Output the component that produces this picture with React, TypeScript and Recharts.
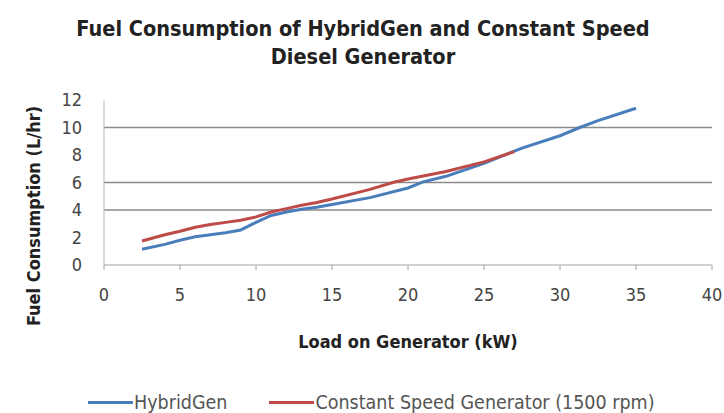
import { LineChart, Line, XAxis, YAxis, CartesianGrid } from "recharts"

// load (kW) vs fuel use (L/hr)
const HYBRID_LOAD = [2.5, 4, 5, 6, 7, 8, 9, 10, 11, 12, 13, 14, 15, 17.5, 20, 21, 22.5, 25, 27.5, 30, 31.3, 32.5, 35]
const HYBRID_FUEL = [1.15, 1.5, 1.8, 2.05, 2.2, 2.35, 2.55, 3.1, 3.6, 3.85, 4.05, 4.2, 4.4, 4.9, 5.6, 6.05, 6.45, 7.4, 8.5, 9.4, 10, 10.5, 11.4]
const CONST_LOAD = [2.5, 4, 5, 6, 7, 8, 9, 10, 11, 12, 13, 14, 15, 17.5, 19, 20, 22.5, 25, 27]
const CONST_FUEL = [1.75, 2.2, 2.45, 2.75, 2.95, 3.1, 3.25, 3.5, 3.85, 4.1, 4.35, 4.55, 4.8, 5.5, 6.0, 6.25, 6.8, 7.5, 8.25]
const X_TICKS = [0, 5, 10, 15, 20, 25, 30, 35, 40]
const Y_TICKS = [0, 2, 4, 6, 8, 10, 12]
const GRID_Y = [4, 6, 10]

const BLUE = "#4a7ebb"
const RED = "#be4b48"
const FONT = "'Liberation Sans Narrow', 'DejaVu Sans Condensed', 'Open Sans', sans-serif"

const hybrid = HYBRID_LOAD.map((x, i) => ({ x, y: HYBRID_FUEL[i] }))
const constant = CONST_LOAD.map((x, i) => ({ x, y: CONST_FUEL[i] }))

export default function App() {
  return (
    <div
      style={{
        position: "absolute",
        left: 0,
        top: 0,
        width: 724,
        height: 413,
        background: "#fff",
        fontFamily: FONT,
        color: "#222",
      }}
    >
      <div
        style={{
          position: "absolute",
          top: 15,
          left: 0,
          width: 726,
          textAlign: "center",
          fontSize: 21.5,
          fontWeight: 700,
          lineHeight: "28px",
        }}
      >
        Fuel Consumption  of HybridGen and Constant Speed
        <br />
        Diesel Generator
      </div>

      <LineChart
        width={724}
        height={413}
        margin={{ top: 100, right: 12, left: 44, bottom: 118 }}
        style={{ position: "absolute", left: 0, top: 0 }}
      >
        <CartesianGrid
          vertical={false}
          horizontalValues={GRID_Y}
          stroke="#8a8a8a"
          strokeWidth={1.5}
        />
        <XAxis
          type="number"
          dataKey="x"
          domain={[0, 40]}
          ticks={X_TICKS}
          allowDuplicatedCategory={false}
          stroke="#a0a0a0"
          tickSize={5}
          tickMargin={18}
          tick={{ fill: "#444", fontSize: 18, fontFamily: FONT }}
          height={30}
        />
        <YAxis
          type="number"
          domain={[0, 12]}
          ticks={Y_TICKS}
          stroke="#b5b5b5"
          tickLine={false}
          tickMargin={16}
          tick={{ fill: "#444", fontSize: 18, fontFamily: FONT }}
          width={60}
        />
        <Line
          data={hybrid}
          dataKey="y"
          type="linear"
          stroke={BLUE}
          strokeWidth={3}
          dot={false}
          isAnimationActive={false}
        />
        <Line
          data={constant}
          dataKey="y"
          type="linear"
          stroke={RED}
          strokeWidth={3}
          dot={false}
          isAnimationActive={false}
        />
      </LineChart>

      <div
        style={{
          position: "absolute",
          left: 33,
          top: 216,
          transform: "translate(-50%, -50%) rotate(-90deg)",
          whiteSpace: "nowrap",
          fontSize: 18,
          fontWeight: 700,
        }}
      >
        Fuel Consumption  (L/hr)
      </div>

      <div
        style={{
          position: "absolute",
          left: 0,
          top: 331,
          width: 816,
          textAlign: "center",
          fontSize: 18,
          fontWeight: 700,
        }}
      >
        Load on Generator (kW)
      </div>

      <div
        style={{
          position: "absolute",
          left: 88,
          top: 391,
          display: "flex",
          alignItems: "center",
          fontSize: 19.5,
          color: "#555",
          whiteSpace: "nowrap",
        }}
      >
        <span style={{ display: "inline-block", width: 45, height: 3, background: BLUE }} />
        <span style={{ marginLeft: 1 }}>HybridGen</span>
        <span style={{ display: "inline-block", width: 45, height: 3, background: RED, marginLeft: 42 }} />
        <span style={{ marginLeft: 1 }}>Constant Speed Generator (1500 rpm)</span>
      </div>
    </div>
  )
}
